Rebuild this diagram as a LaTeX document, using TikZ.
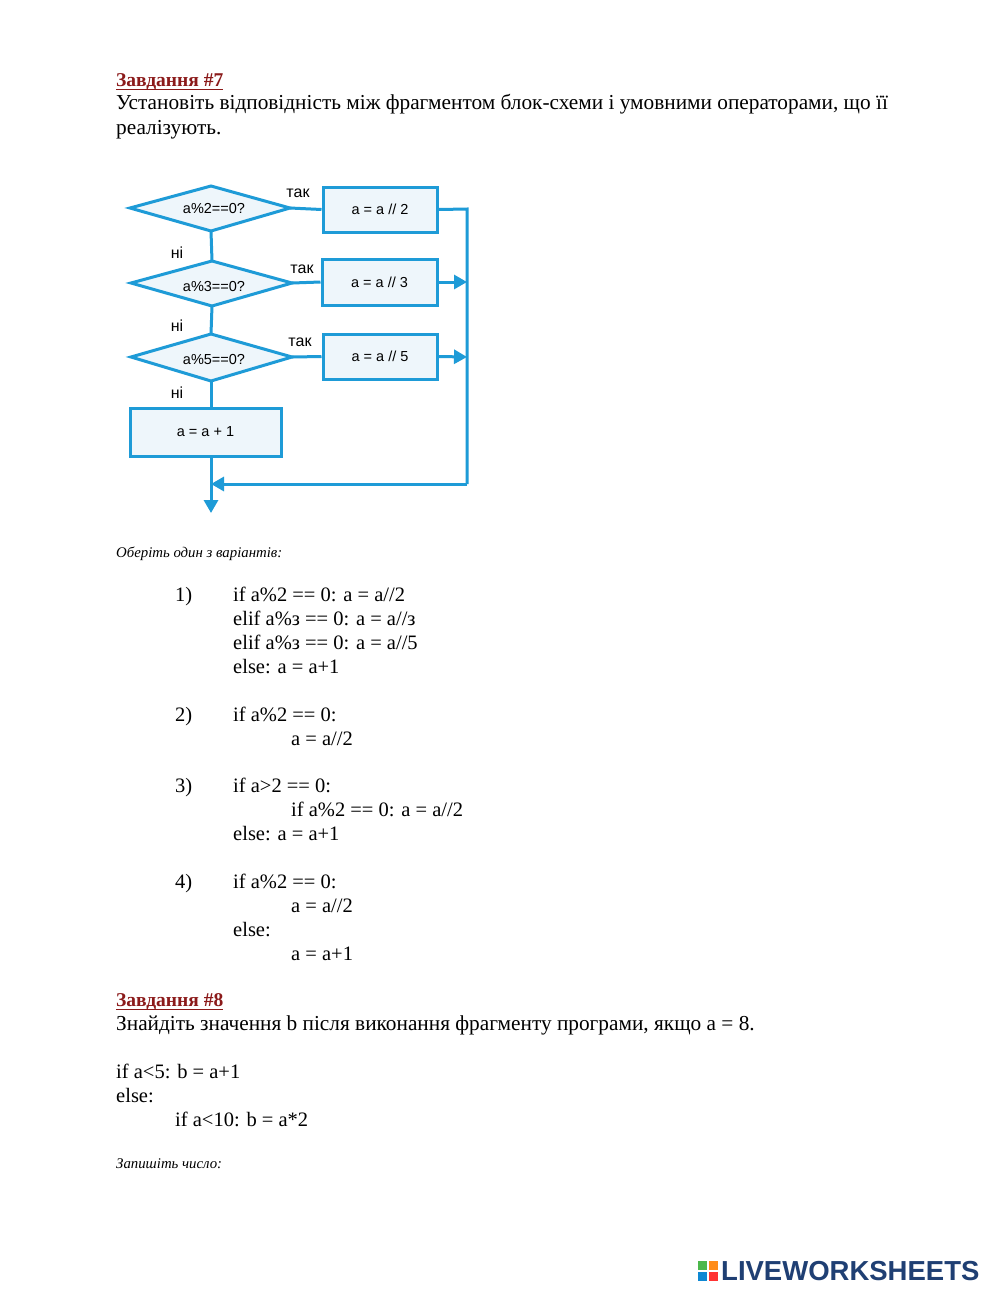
\documentclass[tikz,border=0pt]{standalone}
\usepackage{fontspec}
\setmainfont{Liberation Serif}
\newfontfamily\sansf{Liberation Sans}
\usetikzlibrary{arrows.meta,shapes.geometric}
\definecolor{fc}{HTML}{1E9BD7}
\definecolor{ff}{HTML}{EEF6FB}
\definecolor{dred}{HTML}{8B1A1A}
\definecolor{lw}{HTML}{1F3F73}
\begin{document}
\begin{tikzpicture}[x=1pt,y=-1pt,
  t/.style={anchor=base west,inner sep=0,font=\fontsize{20.5}{23}\selectfont},
  tw/.style={anchor=base west,inner sep=0,font=\fontsize{21.3}{23}\selectfont},
  it/.style={anchor=base west,inner sep=0,font=\fontsize{14.8}{15}\selectfont\itshape},
  hd/.style={anchor=base west,inner sep=0,font=\fontsize{19.5}{23}\selectfont\bfseries,text=dred},
  fl/.style={draw=fc,line width=3pt,fill=ff},
  ln/.style={draw=fc,line width=3pt},
  lb/.style={inner sep=0,font=\sansf\fontsize{16}{17}\selectfont},
  bt/.style={inner sep=0,font=\sansf\fontsize{14.5}{15}\selectfont},
  ar/.style={ln,-{Triangle[length=13pt,width=14pt]}}]
\useasboundingbox (0,0) rectangle (1000,1291);
\fill[white] (0,0) rectangle (1000,1291);
% header 7
\node[hd] (h7) at (116,86) {Завдання \#7};
\draw[dred,line width=1pt] (116,89) -- (223,89);
\node[tw] (l1) at (116,109) {Установіть відповідність між фрагментом блок-схеми і умовними операторами, що її};
\node[tw] (l2) at (116,134) {реалізують.};
% flowchart
\coordinate (top) at (211,185);
\draw[fl] (130,208) -- (211,186) -- (290,208) -- (211,231) -- cycle;
\node[bt] (d1) at (214,209) {a\%2==0?};
\draw[fl] (131,283) -- (212,261) -- (292,283) -- (212,306) -- cycle;
\node[bt] (d2) at (214,287) {a\%3==0?};
\draw[fl] (131,357) -- (211,334) -- (292,357) -- (211,381) -- cycle;
\node[bt] (d3) at (214,360) {a\%5==0?};
\node[fl,minimum width=114,minimum height=45,bt] (b1) at (380,209.5) {a = a // 2};
\node[fl,minimum width=115,minimum height=46,bt] (b2) at (379.5,282) {a = a // 3};
\node[fl,minimum width=114,minimum height=45,bt] (b3) at (380,356.5) {a = a // 5};
\node[fl,minimum width=151,minimum height=48,bt] (b4) at (205.5,432) {a = a + 1};
\coordinate (r1) at (467,209);
\coordinate (r2) at (467,282);
\coordinate (r3) at (467,357);
\coordinate (r4) at (467,484);
\coordinate (m4) at (211,484);
\coordinate (end) at (211,513);
\draw[ln] (top) -- (211,186);
\draw[ln] (211,231) -- (212,261);
\draw[ln] (212,306) -- (211,334);
\draw[ln] (211,381) -- (211,408);
\draw[ln] (290,208) -- (b1.west);
\draw[ln] (292,283) -- (b2.west);
\draw[ln] (292,357) -- (b3.west);
\draw[ln] (b1.east) -- (r1) -- (r4);
\draw[ar] (b2.east) -- (r2);
\draw[ar] (b3.east) -- (r3);
\draw[ar] (r4) -- (m4);
\draw[ar] (211,456) -- (end);
\node[lb] (y1) at (298,193) {так};
\node[lb] (y2) at (302,269) {так};
\node[lb] (y3) at (300,342) {так};
\node[lb] (n1) at (177,253) {ні};
\node[lb] (n2) at (177,326) {ні};
\node[lb] (n3) at (177,393) {ні};
% options
\node[it] (ch) at (116,557) {Оберіть один з варіантів:};
\node[t] (o1) at (175,601) {1)};
\node[t] at (233,601) {if a\%2 == 0: a = a//2};
\node[t] at (233,625) {elif a\%з == 0: a = a//з};
\node[t] at (233,649) {elif a\%з == 0: a = a//5};
\node[t] at (233,673) {else: a = a+1};
\node[t] (o2) at (175,721) {2)};
\node[t] at (233,721) {if a\%2 == 0:};
\node[t] at (291,745) {a = a//2};
\node[t] (o3) at (175,792) {3)};
\node[t] at (233,792) {if a>2 == 0:};
\node[t] at (291,816) {if a\%2 == 0: a = a//2};
\node[t] at (233,840) {else: a = a+1};
\node[t] (o4) at (175,888) {4)};
\node[t] at (233,888) {if a\%2 == 0:};
\node[t] at (291,912) {a = a//2};
\node[t] at (233,936) {else:};
\node[t] at (291,960) {a = a+1};
% header 8
\node[hd] (h8) at (116,1006) {Завдання \#8};
\draw[dred,line width=1pt] (116,1009) -- (223,1009);
\node[tw] at (116,1030) {Знайдіть значення b після виконання фрагменту програми, якщо a = 8.};
\node[t] at (116,1078) {if a<5: b = a+1};
\node[t] at (116,1102) {else:};
\node[t] at (175,1126) {if a<10: b = a*2};
\node[it] at (116,1168) {Запишіть число:};
% logo
\fill[green!60!black!70] (698,1261) rectangle (707,1270);
\fill[orange!90] (709,1261) rectangle (718,1270);
\fill[cyan!70!blue] (698,1272) rectangle (707,1281);
\fill[red!80] (709,1272) rectangle (718,1281);
\node[inner sep=0,anchor=west,text=lw,font=\sansf\bfseries\fontsize{27.5}{30}\selectfont] (logo) at (721,1271) {LIVEWORKSHEETS};
\end{tikzpicture}
\end{document}
